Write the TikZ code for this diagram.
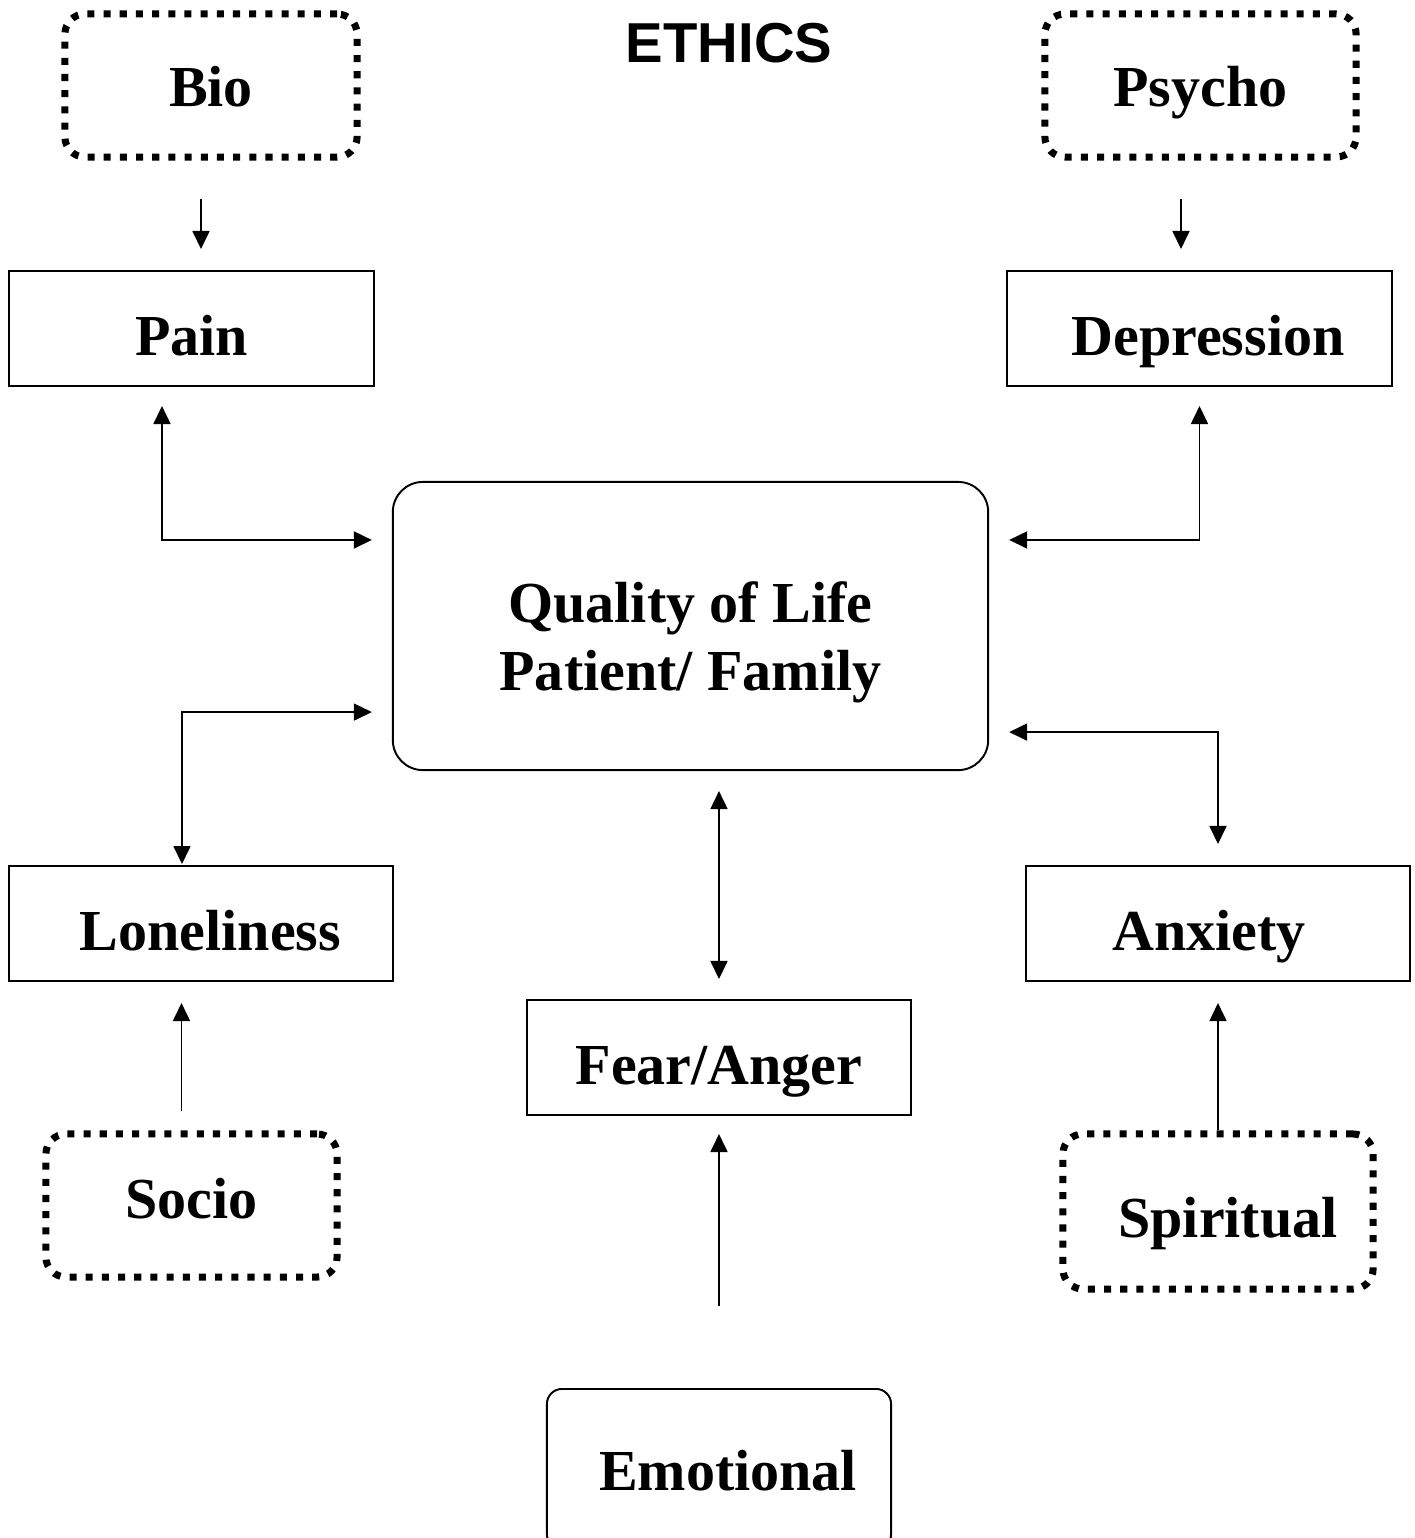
\documentclass[tikz,border=0pt]{standalone}
\usepackage{fontspec}
\setmainfont{Liberation Serif}
\newfontfamily\headfont{Liberation Sans}
\usetikzlibrary{arrows.meta}

\tikzset{
  label font/.style={font=\bfseries\fontsize{16.5}{19.3}\selectfont},
  factorbox/.style={draw, label font, line width=2pt, dash pattern=on 2pt off 2.6pt,
    rounded corners=0.2cm, minimum height=1.43cm, text height=11.7pt, text depth=0pt},
  issuebox/.style={draw, label font, line width=0.55pt, minimum height=1.15cm, minimum width=3.84cm,
    text height=15.1pt, text depth=0pt},
  link/.style={line width=0.5pt, -{Triangle[length=0.18cm, width=0.17cm]}},
  twolink/.style={line width=0.5pt, {Triangle[length=0.18cm, width=0.17cm]}-{Triangle[length=0.18cm, width=0.17cm]}}
}

\begin{document}
\begin{tikzpicture}[x=0.01cm, y=-0.01cm]
        \useasboundingbox (0,0) rectangle (1415,1538);

        % Title
        \node (title) at (729,43) {\headfont\bfseries\fontsize{16}{19}\selectfont ETHICS};

        % Outer factors (dotted)
        \node[factorbox, minimum width=2.92cm] (bio) at (211,85.5) {Bio};
        \node[factorbox, minimum width=3.11cm] (psycho) at (1200.5,85.5) {Psycho};
        \node[factorbox, minimum width=2.91cm, text height=7.1pt] (socio) at (191.5,1205.5) {Socio};
        \node[factorbox, minimum width=3.10cm, minimum height=1.55cm, text height=14.5pt] (spirit) at (1218,1211.5) {\hspace*{0.2cm}Spiritual};
        \node[draw, label font, line width=0.55pt, rounded corners=0.15cm, minimum width=3.44cm,
          minimum height=1.6cm, text height=12pt, text depth=0pt] (emo) at (719,1469) {\hspace*{0.18cm}Emotional};

        % Issues
        \node[issuebox, minimum width=3.65cm] (pain) at (191.5,328.5) {Pain};
        \node[issuebox, minimum width=3.85cm] (depr) at (1199.5,328.5) {\hspace*{0.17cm}Depression};
        \node[issuebox] (lonely) at (201,923.5) {\hspace*{0.19cm}Loneliness};
        \node[issuebox] (anx) at (1218,923.5) {Anxiety\hspace*{0.18cm}};
        \node[issuebox] (fear) at (719,1057.5) {Fear/Anger};

        % Centre
        \node[draw, label font, line width=0.55pt, rounded corners=0.3cm, align=center,
          minimum width=5.95cm, minimum height=2.88cm] (qol) at (690.5,626)
          {\rule{0pt}{21pt}Quality of Life\\Patient/ Family};

        % Factor arrows
        \draw[link, shorten <=0.38cm, shorten >=0.21cm] ([xshift=-0.1cm]bio.south) -- ([xshift=-0.1cm]bio.south |- pain.north);
        \draw[link, shorten <=0.38cm, shorten >=0.21cm] ([xshift=-0.195cm]psycho.south) -- ([xshift=-0.195cm]psycho.south |- depr.north);
        \draw[link, shorten <=0.19cm, shorten >=0.21cm] ([xshift=-0.1cm]socio.north) -- ([xshift=-0.1cm]socio.north |- lonely.south);
        \draw[link, shorten >=0.21cm] (spirit.north) -- (anx.south);
        \draw[link, shorten <=0.82cm, shorten >=0.18cm] (emo.north) -- (fear.south);

        % Links to the centre
        \draw[twolink, shorten <=0.19cm, shorten >=0.2cm] ([xshift=-0.295cm]pain.south) |- ([yshift=0.86cm]qol.west);
        \draw[twolink, shorten <=0.19cm, shorten >=0.2cm] (depr.south) |- ([yshift=0.86cm]qol.east);
        \draw[twolink, shorten <=0.01cm, shorten >=0.2cm] ([xshift=-0.19cm]lonely.north) |- ([yshift=-0.86cm]qol.west);
        \draw[twolink, shorten <=0.21cm, shorten >=0.2cm] (anx.north) |- ([yshift=-1.06cm]qol.east);
        \draw[twolink, shorten <=0.2cm, shorten >=0.2cm] (qol.south -| fear.north) -- (fear.north);
    \end{tikzpicture}
\end{document}
